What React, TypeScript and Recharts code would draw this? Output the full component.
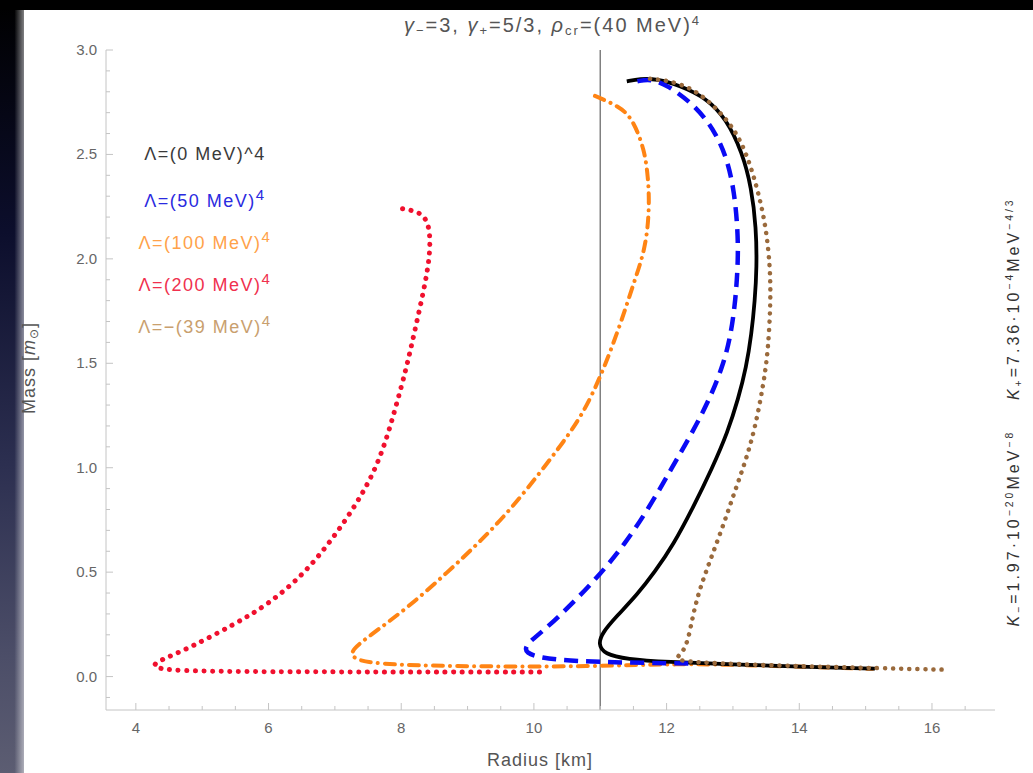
import { LineChart, Line, XAxis, YAxis, ReferenceLine } from "recharts";

// mass-radius curves, [radius km, mass m_sun]
const lam0: [number, number][] = [
  [11.4, 2.85], [11.6, 2.862], [11.85, 2.862], [12.2, 2.83], [12.6, 2.77], [12.9, 2.67],
  [13.14, 2.51], [13.28, 2.34], [13.35, 2.15], [13.36, 1.96], [13.33, 1.8], [13.28, 1.64],
  [13.2, 1.48], [13.08, 1.33], [12.92, 1.17], [12.69, 1.0], [12.4, 0.81], [12.1, 0.63],
  [11.82, 0.5], [11.55, 0.39], [11.25, 0.29], [11.03, 0.21], [10.97, 0.155], [11.06, 0.108],
  [11.4, 0.083], [12.0, 0.07], [13.0, 0.058], [14.0, 0.048], [15.14, 0.038],
];
const lam50: [number, number][] = [
  [11.56, 2.85], [11.75, 2.862], [12.0, 2.835], [12.45, 2.73], [12.75, 2.6], [12.92, 2.47],
  [13.02, 2.32], [13.07, 2.15], [13.08, 2.0], [13.04, 1.8], [12.96, 1.62], [12.84, 1.48],
  [12.65, 1.33], [12.39, 1.17], [12.08, 1.0], [11.74, 0.81], [11.36, 0.63], [11.0, 0.49],
  [10.58, 0.35], [10.15, 0.22], [9.86, 0.15], [9.88, 0.112], [10.1, 0.09], [10.51, 0.076],
  [11.17, 0.068], [12.1, 0.064], [12.4, 0.062],
];
const lam100: [number, number][] = [
  [10.92, 2.78], [11.29, 2.73], [11.49, 2.67], [11.67, 2.52], [11.72, 2.39], [11.74, 2.27],
  [11.71, 2.12], [11.63, 2.0], [11.5, 1.88], [11.38, 1.76], [11.17, 1.57], [10.98, 1.42],
  [10.7, 1.23], [10.15, 1.0], [9.65, 0.8], [9.2, 0.65], [8.7, 0.5], [8.1, 0.33],
  [7.5, 0.19], [7.2, 0.115], [7.33, 0.075], [7.82, 0.056], [9.17, 0.048], [10.84, 0.048],
  [12.2, 0.062], [13.2, 0.055], [15.1, 0.037],
];
const lam200: [number, number][] = [
  [8.02, 2.24], [8.29, 2.225], [8.42, 2.17], [8.44, 2.06], [8.4, 1.95], [8.32, 1.82],
  [8.2, 1.65], [8.08, 1.48], [7.91, 1.28], [7.65, 1.0], [7.18, 0.75], [6.58, 0.5],
  [5.97, 0.34], [5.48, 0.25], [4.83, 0.14], [4.34, 0.075], [4.24, 0.05], [4.45, 0.03],
  [5.28, 0.024], [7.23, 0.022], [10.17, 0.022],
];
const lamNeg39: [number, number][] = [
  [11.75, 2.862], [12.0, 2.855], [12.39, 2.82], [12.8, 2.71], [13.14, 2.57], [13.37, 2.34],
  [13.5, 2.15], [13.56, 1.96], [13.57, 1.8], [13.53, 1.56], [13.46, 1.4], [13.34, 1.2],
  [13.2, 1.04], [13.02, 0.88], [12.85, 0.72], [12.66, 0.56], [12.5, 0.42], [12.4, 0.3],
  [12.33, 0.18], [12.24, 0.11], [12.08, 0.078], [12.6, 0.065], [13.5, 0.055], [14.8, 0.043], [16.2, 0.033],
];

const xTicks = [4, 4.5, 5, 5.5, 6, 6.5, 7, 7.5, 8, 8.5, 9, 9.5, 10, 10.5, 11, 11.5, 12, 12.5, 13, 13.5, 14, 14.5, 15, 15.5, 16, 16.5];
const xMajor = [4, 6, 8, 10, 12, 14, 16];
const yTicks = [-0.1, 0, 0.1, 0.2, 0.3, 0.4, 0.5, 0.6, 0.7, 0.8, 0.9, 1, 1.1, 1.2, 1.3, 1.4, 1.5, 1.6, 1.7, 1.8, 1.9, 2, 2.1, 2.2, 2.3, 2.4, 2.5, 2.6, 2.7, 2.8, 2.9, 3];
const yMajor = [0, 0.5, 1, 1.5, 2, 2.5, 3];

const frame = "#c4c4c4";
const tickColor = "#666";
const font = "'Liberation Sans', Arial, sans-serif";

const toPts = (a: [number, number][]) => a.map(([r, m]) => ({ r, m }));
const isMajor = (v: number, list: number[]) => list.some((t) => Math.abs(t - v) < 1e-6);

const BottomTick = ({ x, y, payload }: any) => {
  const major = isMajor(payload.value, xMajor);
  return (
    <g>
      <line x1={x} x2={x} y1={y} y2={y - (major ? 7 : 4)} stroke={frame} />
      {major && (
        <text x={x} y={y + 23} textAnchor="middle" fill={tickColor} fontSize={15} fontFamily={font}>
          {payload.value}
        </text>
      )}
    </g>
  );
};
const TopTick = ({ x, y, payload }: any) => {
  const major = isMajor(payload.value, xMajor);
  return <line x1={x} x2={x} y1={y} y2={y + (major ? 7 : 4)} stroke={frame} />;
};
const LeftTick = ({ x, y, payload }: any) => {
  const major = isMajor(payload.value, yMajor);
  return (
    <g>
      <line x1={x} x2={x + (major ? 7 : 4)} y1={y} y2={y} stroke={frame} />
      {major && (
        <text x={x - 9} y={y + 5} textAnchor="end" fill={tickColor} fontSize={15} fontFamily={font}>
          {payload.value.toFixed(1)}
        </text>
      )}
    </g>
  );
};
const RightTick = ({ x, y, payload }: any) => {
  const major = isMajor(payload.value, yMajor);
  return <line x1={x} x2={x - (major ? 7 : 4)} y1={y} y2={y} stroke={frame} />;
};

const legend = [
  { text: <>Λ=(0 MeV)^4</>, color: "#3a3a3a", top: 144 },
  { text: <>Λ=(50 MeV)<sup>4</sup></>, color: "#2a2ae0", top: 186 },
  { text: <>Λ=(100 MeV)<sup>4</sup></>, color: "#ffa24a", top: 228 },
  { text: <>Λ=(200 MeV)<sup>4</sup></>, color: "#f0304e", top: 270 },
  { text: <>Λ=−(39 MeV)<sup>4</sup></>, color: "#c9a06e", top: 312 },
];

const supStyle = { fontSize: "0.65em", verticalAlign: "0.55em" } as const;
const subStyle = { fontSize: "0.65em", verticalAlign: "-0.25em" } as const;

export default function App() {
  return (
    <div style={{ position: "absolute", left: 0, top: 0, width: 1033, height: 773, background: "#fff", overflow: "hidden", fontFamily: font }}>
      <LineChart width={1033} height={773} margin={{ top: 50, right: 38, bottom: 33, left: 36 }}>
        <XAxis xAxisId="b" dataKey="r" type="number" domain={[3.55, 16.95]} allowDataOverflow ticks={xTicks} interval={0}
          tickSize={0} tickMargin={0} tick={<BottomTick />} axisLine={{ stroke: frame }} height={30} />
        <XAxis xAxisId="t" dataKey="r" type="number" orientation="top" domain={[3.55, 16.95]} allowDataOverflow ticks={xTicks} interval={0}
          tickSize={0} tickMargin={0} tick={<TopTick />} axisLine={{ stroke: frame }} height={0} />
        <YAxis yAxisId="l" type="number" domain={[-0.16, 3.0]} allowDataOverflow ticks={yTicks} interval={0}
          tickSize={0} tickMargin={0} tick={<LeftTick />} axisLine={{ stroke: frame }} width={70} />
        <YAxis yAxisId="r" type="number" orientation="right" domain={[-0.16, 3.0]} allowDataOverflow ticks={yTicks} interval={0}
          tickSize={0} tickMargin={0} tick={<RightTick />} axisLine={{ stroke: frame }} width={0} />
        <ReferenceLine xAxisId="b" yAxisId="l" x={11} stroke="#808080" strokeWidth={1.5} />
        <Line xAxisId="b" yAxisId="l" data={toPts(lam200)} dataKey="m" type="basis" stroke="#f0102e" strokeWidth={5}
          strokeDasharray="0.1 8.5" strokeLinecap="round" dot={false} isAnimationActive={false} />
        <Line xAxisId="b" yAxisId="l" data={toPts(lam100)} dataKey="m" type="basis" stroke="#ff8414" strokeWidth={4}
          strokeDasharray="10 7 0.1 7" strokeLinecap="round" dot={false} isAnimationActive={false} />
        <Line xAxisId="b" yAxisId="l" data={toPts(lam0)} dataKey="m" type="basis" stroke="#000" strokeWidth={3.8}
          dot={false} isAnimationActive={false} />
        <Line xAxisId="b" yAxisId="l" data={toPts(lam50)} dataKey="m" type="basis" stroke="#0a0af5" strokeWidth={4.5}
          strokeDasharray="14 8" dot={false} isAnimationActive={false} />
        <Line xAxisId="b" yAxisId="l" data={toPts(lamNeg39)} dataKey="m" type="basis" stroke="#9a6a3c" strokeWidth={4.5}
          strokeDasharray="0.1 8" strokeLinecap="round" dot={false} isAnimationActive={false} />
      </LineChart>

      {/* dark photo borders */}
      <div style={{ position: "absolute", left: 0, top: 0, width: 24, height: 773,
        background: "linear-gradient(to right, rgba(255,255,255,0) 60%, rgba(255,255,255,0.5) 100%), linear-gradient(to bottom, #000 0%, #0c0e2c 30%, #2c2f50 60%, #4c4e68 85%, #5c5d72 100%)" }} />
      <div style={{ position: "absolute", left: 0, top: 0, width: 1033, height: 10, background: "#000" }} />

      <div style={{ position: "absolute", left: 0, width: 1105, top: 9, textAlign: "center", color: "#555", fontSize: 20, letterSpacing: 2, lineHeight: "23px" }}>
        <i>γ</i><span style={subStyle}>−</span>=3, <i>γ</i><span style={subStyle}>+</span>=5/3, <i>ρ</i><span style={subStyle}>cr</span>=(40 MeV)<span style={supStyle}>4</span>
      </div>

      {legend.map((l, i) => (
        <div key={i} style={{ position: "absolute", left: 105, width: 200, top: l.top, textAlign: "center", color: l.color, fontSize: 18, letterSpacing: 1.5 }}>
          {l.text}
        </div>
      ))}

      <div style={{ position: "absolute", left: 440, width: 200, top: 750, textAlign: "center", color: "#555", fontSize: 18, letterSpacing: 1 }}>Radius [km]</div>
      <div style={{ position: "absolute", left: 30, top: 368, transform: "translate(-50%, -50%) rotate(-90deg)", whiteSpace: "nowrap", color: "#555", fontSize: 18, letterSpacing: 1 }}>
        Mass [<i>m</i><span style={subStyle}>⊙</span>]
      </div>
      <div style={{ position: "absolute", left: 1014, top: 412, transform: "translate(-50%, -50%) rotate(-90deg)", whiteSpace: "nowrap", color: "#333", fontSize: 16, letterSpacing: 3 }}>
        <i>K</i><span style={subStyle}>−</span>=1.97·10<span style={supStyle}>−20</span>MeV<span style={supStyle}>−8</span>
        {"\u00a0\u00a0\u00a0\u00a0"}
        <i>K</i><span style={subStyle}>+</span>=7.36·10<span style={supStyle}>−4</span>MeV<span style={supStyle}>−4/3</span>
      </div>
    </div>
  );
}
